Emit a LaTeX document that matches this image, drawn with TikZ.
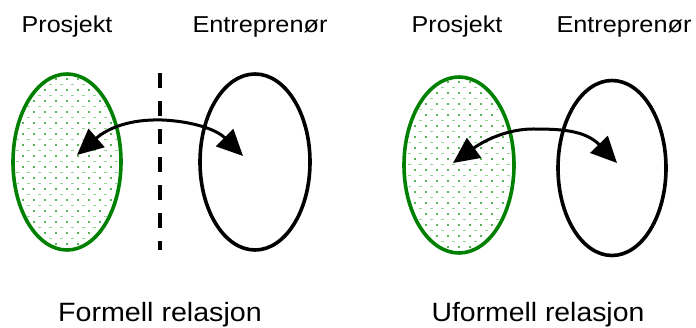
\documentclass[tikz,border=0pt]{standalone}
\usepackage{fontspec}
\setmainfont{Liberation Sans}
\usetikzlibrary{arrows.meta,shapes.geometric}
\definecolor{pgreen}{RGB}{0,128,0}
\definecolor{dotgreen}{RGB}{90,180,90}
\definecolor{dotgreenl}{RGB}{150,210,150}
\begin{document}
\begin{tikzpicture}[x=1pt,y=-1pt,
  ell/.style={ellipse, line width=3.6pt, inner sep=0pt, outer sep=0pt},
  greenell/.style={ell, draw=pgreen},
  blackell/.style={ell, draw=black},
  toplabel/.style={anchor=base, font=\fontsize{23}{26}\selectfont, inner sep=0pt},
  botlabel/.style={anchor=base, font=\fontsize{26.5}{30}\selectfont, inner sep=0pt},
  relarrow/.style={line width=3pt, {Triangle[length=26pt,width=24pt]}-{Triangle[length=26pt,width=24pt]}},
  divider/.style={line width=4pt, dash pattern=on 15pt off 13pt}
]
\useasboundingbox (0,0) rectangle (696,328);
% dotted fills
\foreach \cx/\cy in {67/162, 459/165}{
  \begin{scope}
    \clip (\cx,\cy) ellipse [x radius=52, y radius=86];
    \foreach \i in {0,...,34}{
      \foreach \j in {0,...,11}{
        \pgfmathsetmacro{\xx}{\cx-66+\j*11+mod(\i,2)*5.5}
        \pgfmathsetmacro{\yy}{\cy-94+\i*5.5}
        \ifodd\i
          \fill[dotgreenl] (\xx-1.2,\yy-0.5) rectangle (\xx+1.2,\yy+0.5);
        \else
          \fill[dotgreen] (\xx-0.8,\yy-0.8) rectangle (\xx+0.8,\yy+0.8);
        \fi
      }
    }
  \end{scope}
}
% ellipses
\node[greenell, minimum width=108pt, minimum height=176pt] (proj1) at (67,162) {};
\node[blackell, minimum width=110pt, minimum height=176pt] (entr1) at (255,162) {};
\node[greenell, minimum width=110pt, minimum height=176pt] (proj2) at (459,165) {};
\node[blackell, minimum width=108pt, minimum height=175pt] (entr2) at (612,168) {};
% divider
\coordinate (divtop) at (160,73);
\coordinate (divbot) at (160,250);
\draw[divider] (divtop) -- (divbot);
% arrows
\coordinate (a1) at (77,155);
\coordinate (b1) at (243,156);
\coordinate (m1) at (162,120);
\draw[relarrow] (a1) .. controls (108,128) and (130,119) .. (m1)
  .. controls (188,121) and (215,128) .. (b1);
\coordinate (a2) at (453,163);
\coordinate (b2) at (617,163);
\coordinate (m2) at (533,129);
\draw[relarrow] (a2) .. controls (485,140) and (508,129) .. (m2)
  .. controls (560,129) and (585,130) .. (b2);
% labels
\node[toplabel] (lp1) at (67,33) {\scalebox{1.09}[1]{Prosjekt}};
\node[toplabel] (le1) at (260,33) {\scalebox{1.1}[1]{Entreprenør}};
\node[toplabel] (lp2) at (457,33) {\scalebox{1.09}[1]{Prosjekt}};
\node[toplabel] (le2) at (624,33) {\scalebox{1.1}[1]{Entreprenør}};
\node[botlabel] (lf) at (160,322) {\scalebox{1.08}[1]{Formell relasjon}};
\node[botlabel] (lu) at (538,322) {\scalebox{1.07}[1]{Uformell relasjon}};
\end{tikzpicture}
\end{document}
